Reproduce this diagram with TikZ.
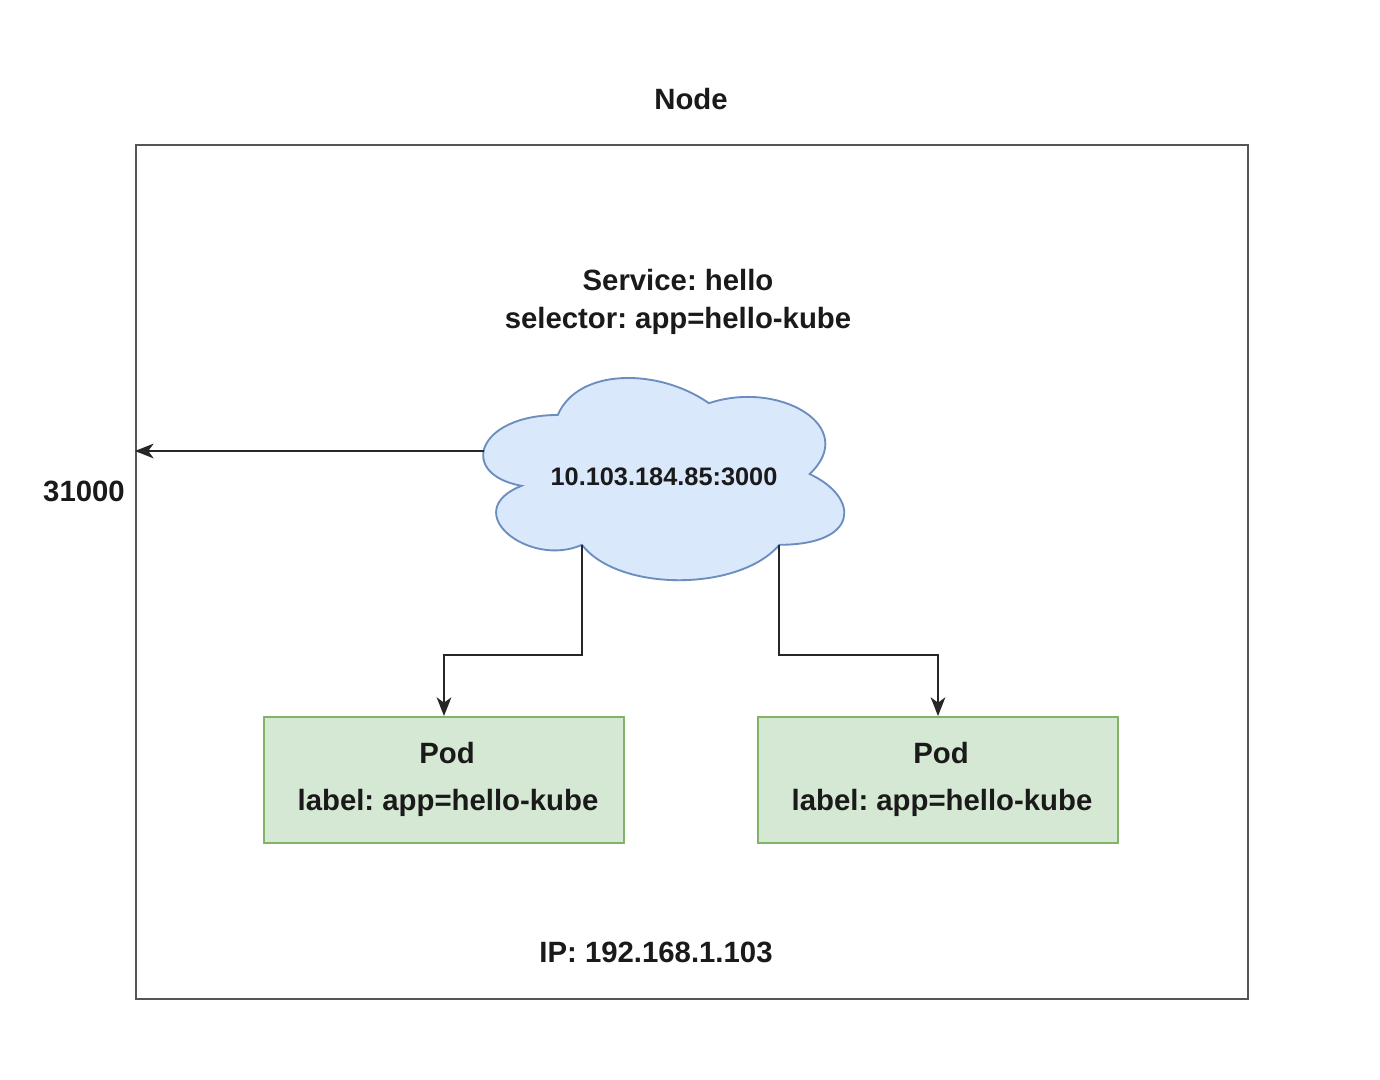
\documentclass[tikz,border=0pt]{standalone}
\usepackage{fontspec}
\setmainfont{Liberation Sans}
\usetikzlibrary{arrows.meta}
\definecolor{boxgray}{HTML}{555555}
\definecolor{podfill}{HTML}{D5E8D4}
\definecolor{podline}{HTML}{82B366}
\definecolor{cloudfill}{HTML}{DAE8FC}
\definecolor{cloudline}{HTML}{6C8EBF}
\definecolor{txt}{HTML}{1A1A1A}
\tikzset{
  lbl/.style={font=\fontsize{22}{26}\selectfont\bfseries\frenchspacing, text=txt, inner sep=0pt, anchor=base},
  podbox/.style={draw=podline, fill=podfill, line width=1.5pt, minimum width=270pt, minimum height=94.5pt, inner sep=0pt},
  conn/.style={draw=black!85, line width=1.5pt, -{Stealth[length=14pt,width=11pt,inset=4pt]}},
}
\begin{document}
\frenchspacing
\begin{tikzpicture}[x=0.75pt,y=-0.75pt]
\useasboundingbox (0,0) rectangle (1380,1080);
\fill[white] (0,0) rectangle (1380,1080);
% main node box
\node[draw=boxgray, line width=1.6pt, minimum width=834pt, minimum height=640.5pt, inner sep=0pt] (main) at (692,572) {};
\node[lbl] (nodelbl) at (691,110) {Node};
\node[lbl] (svc1) at (678,291) {Service: hello};
\node[lbl] (svc2) at (678,329) {selector: app=hello-kube};
% cloud
\path[draw=cloudline, fill=cloudfill, line width=1.4pt]
  (557.75,415) .. controls (477.15,415) and (457,474) .. (521.48,485.8)
  .. controls (457,511.76) and (529.54,568.4) .. (581.93,544.8)
  .. controls (618.2,592) and (739.1,592) .. (779.4,544.8)
  .. controls (860,544.8) and (860,497.6) .. (809.625,474)
  .. controls (860,426.8) and (779.4,379.6) .. (708.875,403.2)
  .. controls (658.5,367.8) and (577.9,367.8) .. (557.75,415) -- cycle;
\node[lbl, font=\fontsize{19}{22}\selectfont\bfseries] (cloud) at (664,485) {10.103.184.85:3000};
\coordinate (cloudL) at (484,451);
\coordinate (cloudA) at (581.93,544.8);
\coordinate (cloudB) at (779.4,544.8);
% port
\node[lbl] (port) at (84,501) {31000};
\draw[conn] (cloudL) -- (main.west |- cloudL);
% pods
\node[podbox] (pod1) at (444,780) {};
\node[podbox] (pod2) at (938,780) {};
\node[lbl] (pod1t) at (447,763) {Pod};
\node[lbl] (pod1l) at (448,810) {label: app=hello-kube};
\node[lbl] (pod2t) at (941,763) {Pod};
\node[lbl] (pod2l) at (942,810) {label: app=hello-kube};
\draw[conn] (cloudA) -- ++(0,110.2) -| (pod1.north);
\draw[conn] (cloudB) -- ++(0,110.2) -| (pod2.north);
% ip
\node[lbl] (ip) at (656,962) {IP: 192.168.1.103};
\end{tikzpicture}
\end{document}
